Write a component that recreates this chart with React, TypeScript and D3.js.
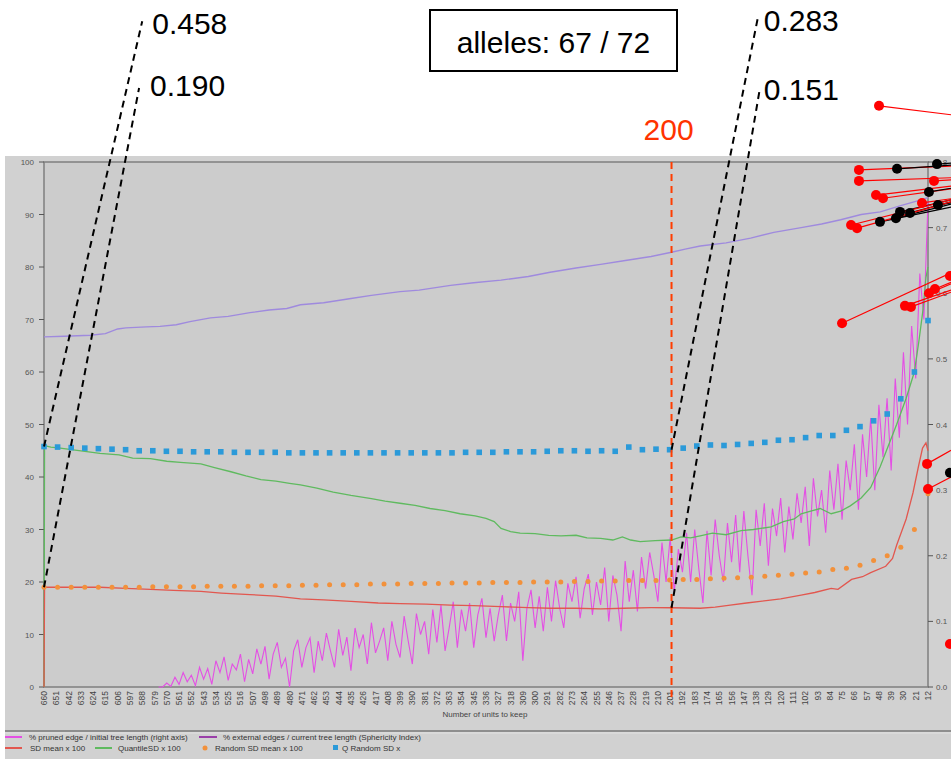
import React from 'react';
import * as d3 from 'd3';

const W = 951;
const H = 759;

// x-axis tick labels (Number of units to keep)
const xTickLabels = [660,651,642,633,624,615,606,597,588,579,570,561,552,543,534,525,516,507,498,489,480,471,462,453,444,435,426,417,408,399,390,381,372,363,354,345,336,327,318,309,300,291,282,273,264,255,246,237,228,219,210,201,192,183,174,165,156,147,138,129,120,111,102,93,84,75,66,57,48,39,30,21,12];
const leftTicks = [0,10,20,30,40,50,60,70,80,90,100];
const rightTicks = [0,0.1,0.2,0.3,0.4,0.5,0.6,0.7,0.8];

// % pruned edge / initial tree length (right axis), every 3 units from 576 to 12
const magentaStart = 576;
const magentaStep = 3;
const magentaValues = [
  0, 0, 0.006, 0.001, 0.015, 0.004, 0.022, 0.008, 0.018, 0.002, 0.03,
  0.012, 0.028, 0.004, 0.04, 0.022, 0.046, 0.01, 0.035, 0.026, 0.05, 0.008, 0.042,
  0.02, 0.058, 0.035, 0.062, 0.012, 0.05, 0.068, 0.03, 0.044, 0.0, 0.055, 0.072,
  0.03, 0.06, 0.075, 0.022, 0.07, 0.04, 0.082, 0.055, 0.03, 0.088, 0.048, 0.076,
  0.025, 0.09, 0.06, 0.08, 0.035, 0.098, 0.052, 0.07, 0.09, 0.04, 0.1, 0.065,
  0.045, 0.108, 0.07, 0.035, 0.112, 0.08, 0.1, 0.05, 0.118, 0.068, 0.125, 0.055,
  0.09, 0.13, 0.06, 0.118, 0.085, 0.128, 0.06, 0.11, 0.135, 0.075, 0.12, 0.07,
  0.11, 0.14, 0.07, 0.128, 0.1, 0.145, 0.04, 0.12, 0.148, 0.09, 0.138, 0.085,
  0.152, 0.1, 0.162, 0.12, 0.09, 0.158, 0.13, 0.168, 0.105, 0.15, 0.172, 0.11,
  0.16, 0.125, 0.182, 0.1, 0.17, 0.14, 0.085, 0.192, 0.13, 0.178, 0.115, 0.198,
  0.15, 0.205, 0.17, 0.13, 0.22, 0.16, 0.228, 0.145, 0.21, 0.175, 0.235, 0.16,
  0.24, 0.18, 0.128, 0.238, 0.17, 0.255, 0.2, 0.16, 0.25, 0.19, 0.262, 0.175,
  0.268, 0.2, 0.14, 0.27, 0.215, 0.28, 0.185, 0.272, 0.23, 0.288, 0.205, 0.275,
  0.225, 0.295, 0.25, 0.305, 0.215, 0.318, 0.26, 0.3, 0.235, 0.33, 0.27, 0.34,
  0.255, 0.345, 0.3, 0.37, 0.27, 0.385, 0.32, 0.41, 0.3, 0.43, 0.35, 0.44,
  0.33, 0.47, 0.38, 0.51, 0.4, 0.55, 0.47, 0.63, 0.56, 0.74,
];

// % external edges / current tree length (Sphericity Index) [unit, value]
const purplePoints: [number, number][] = [
  [660, 66.7], [645, 66.8], [626, 67.0], [615, 67.3], [606, 68.2], [600, 68.4], [585, 68.6],
  [575, 68.7], [563, 69.0], [553, 69.6], [538, 70.3], [525, 70.6], [509, 71.3], [495, 71.8],
  [482, 72.1], [472, 72.8], [455, 73.2], [435, 74.0], [420, 74.6], [399, 75.3], [385, 75.6],
  [362, 76.5], [345, 77.0], [325, 77.5], [305, 78.2], [289, 79.0], [270, 79.8], [252, 80.5],
  [235, 81.2], [215, 82.0], [200, 82.8], [190, 83.4], [179, 84.0], [160, 84.6], [142, 85.5],
  [125, 86.6], [105, 87.5], [90, 88.2], [76, 89.0], [61, 90.0], [47, 90.5], [32, 91.7],
  [21, 92.5], [12, 93.2],
];

// SD mean x 100
const redPoints: [number, number][] = [
  [660, 0], [659.6, 19.0], [640, 19.0], [619, 19.0], [600, 18.8], [582, 18.6], [565, 18.4],
  [545, 18.2], [530, 17.9], [509, 17.6], [490, 17.3], [472, 16.8], [455, 16.6], [435, 16.3],
  [415, 16.0], [399, 15.9], [380, 15.8], [362, 15.6], [345, 15.5], [325, 15.3], [305, 15.1],
  [289, 15.0], [270, 15.0], [252, 14.9], [235, 15.0], [215, 15.1], [200, 15.1], [179, 15.0],
  [168, 15.2], [157, 15.6], [145, 16.0], [135, 16.3], [120, 16.8], [105, 17.5], [95, 18.0],
  [83, 18.8], [78, 18.6], [68, 20.5], [60, 21.0], [54, 21.8], [43, 23.0], [38, 24.5],
  [35, 27.0], [28, 32.0], [23, 37.0], [19, 42.0], [16, 45.5], [13.5, 46.5], [12, 45.0],
];

// QuantileSD x 100
const greenPoints: [number, number][] = [
  [660, 0], [659.6, 46], [655, 45.7], [648, 45.5], [640, 45.2], [630, 44.9], [619, 44.5],
  [605, 44.2], [595, 43.6], [582, 43.5], [570, 43.0], [560, 42.8], [545, 42.5], [535, 41.8],
  [523, 41.0], [512, 40.2], [501, 39.5], [490, 39.2], [480, 38.8], [472, 38.5], [460, 37.9],
  [448, 37.1], [435, 36.5], [420, 35.9], [410, 35.4], [399, 35.0], [388, 34.6], [377, 34.0],
  [366, 33.6], [355, 33.0], [344, 32.6], [336, 32.1], [330, 31.5], [325, 30.2], [318, 29.6],
  [311, 29.3], [300, 29.2], [290, 28.9], [281, 28.8], [270, 28.9], [262, 28.4], [252, 28.3],
  [243, 28.0], [236, 28.6], [230, 28.0], [223, 27.7], [212, 27.9], [200, 28.0], [193, 28.6],
  [186, 28.4], [179, 28.8], [170, 29.3], [160, 29.0], [149, 29.8], [140, 30.0], [127, 30.5],
  [118, 31.5], [110, 32.0], [105, 33.0], [98, 33.5], [91, 34.0], [83, 33.0], [76, 33.5],
  [69, 34.5], [61, 36.0], [54, 38.0], [47, 42.0], [41, 46.0], [35, 50.0], [28, 55.0],
  [22, 60.0], [18.6, 66.0], [15.6, 72.0], [13.5, 78.0], [12, 80.0],
];

// Random SD mean x 100 (66 evenly spaced markers, 660 -> 12)
const orangeValues = [
  19.0, 19.0, 19.0, 19.0, 19.0, 19.0, 19.0, 19.0, 19.1, 19.1, 19.1, 19.1, 19.2, 19.2,
  19.2, 19.2, 19.3, 19.3, 19.3, 19.4, 19.4, 19.5, 19.5, 19.5, 19.6, 19.6, 19.6, 19.7,
  19.7, 19.7, 19.8, 19.8, 19.8, 19.9, 19.9, 19.9, 20.0, 20.0, 20.0, 20.1, 20.1, 20.2,
  20.2, 20.3, 20.3, 20.3, 20.4, 20.5, 20.5, 20.6, 20.7, 20.8, 20.9, 21.1, 21.3, 21.5,
  21.7, 21.9, 22.4, 22.6, 23.2, 24.1, 25.0, 26.6, 30.0, 36.8,
];

// Q Random SD x 100
const blueValues = [
  45.8, 45.7, 45.6, 45.5, 45.4, 45.3, 45.2, 45.0, 45.0, 44.9, 44.9, 44.8, 44.8, 44.8,
  44.7, 44.7, 44.7, 44.7, 44.6, 44.6, 44.6, 44.6, 44.6, 44.6, 44.6, 44.6, 44.6, 44.6,
  44.6, 44.6, 44.6, 44.7, 44.7, 44.7, 44.8, 44.8, 44.8, 44.9, 45.0, 45.0, 44.9, 45.0,
  44.9, 45.7, 45.2, 45.3, 45.2, 45.5, 45.9, 46.1, 46.0, 46.2, 46.4, 46.6, 47.0, 47.1,
  47.5, 47.9, 47.9, 48.9, 49.6, 50.7, 52.0, 54.9, 60.0, 69.8,
];

// Dashed callouts: [fromUnit, fromValue, toUnit, toValue, label]
const callouts: [number, number, number, number, string][] = [
  [660, 45.8, 588, 126.8, '0.458'],
  [660, 19.0, 590.3, 114.1, '0.190'],
  [200, 45.2, 136.8, 127.4, '0.283'],
  [200, 15.1, 135.3, 113.9, '0.151'],
];

// Leader dots: [unit, value, color, endUnit, endValue]
const leaders: [number, number, string, number | null, number | null][] = [
  [47.9, 110.7, 'red', -4.9, 109.0],
  [62.6, 98.5, 'red', -4.9, 99.2],
  [34.7, 98.7, 'black', -4.9, 99.4],
  [5.4, 99.6, 'black', -4.9, 99.8],
  [62.6, 96.4, 'red', -4.9, 97.0],
  [7.6, 96.4, 'red', -4.9, 96.6],
  [50.1, 93.7, 'red', -4.9, 95.4],
  [45.0, 93.1, 'red', -4.9, 94.9],
  [11.3, 94.3, 'black', -4.9, 95.0],
  [16.4, 92.2, 'red', -4.9, 93.0],
  [4.7, 91.8, 'black', -4.9, 92.2],
  [32.5, 90.5, 'black', -4.9, 92.8],
  [25.2, 90.3, 'black', -4.9, 92.4],
  [35.5, 89.3, 'black', -4.9, 92.0],
  [47.2, 88.6, 'black', -4.9, 91.4],
  [68.4, 88.0, 'red', -4.9, 92.8],
  [64.0, 87.4, 'red', -4.9, 92.4],
  [-4.1, 78.3, 'red', null, null],
  [6.9, 75.8, 'red', -4.9, 77.1],
  [11.3, 75.0, 'red', -4.9, 76.8],
  [28.9, 72.6, 'red', -4.9, 75.6],
  [24.5, 72.4, 'red', -4.9, 75.2],
  [75.0, 69.3, 'red', -4.9, 78.9],
  [12.7, 42.5, 'red', -4.9, 45.1],
  [-4.1, 40.8, 'black', null, null],
  [12.0, 37.7, 'red', -4.9, 40.0],
  [-4.1, 8.2, 'red', null, null],
];

const markerLine = 200;

const COLORS = {
  magenta: '#e44fe4',
  purple: '#9f8ade',
  red: '#e2574f',
  green: '#5fba5f',
  orange: '#f2913b',
  blue: '#2b9ad9',
};

const FONT = '"Liberation Sans", Arial, sans-serif';

export default function App() {
  const x = d3.scaleLinear().domain([660, 12]).range([44, 928]);
  const yL = d3.scaleLinear().domain([0, 100]).range([687, 162]);
  const yR = d3.scaleLinear().domain([0, 0.8]).range([687, 162]);

  const lineL = d3.line<[number, number]>().x((d) => x(d[0])).y((d) => yL(d[1]));
  const lineR = d3.line<[number, number]>().x((d) => x(d[0])).y((d) => yR(d[1]));

  const magentaPts: [number, number][] = magentaValues.map((v, i) => [magentaStart - i * magentaStep, v]);
  const markerUnit = (i: number) => 660 - (i * (660 - 12)) / (orangeValues.length - 1);

  const calloutOffsets = [
    [10, 13],
    [11, 8],
    [6, 13],
    [4, 11],
  ];

  const legendRow1 = 740;
  const legendRow2 = 751;

  return (
    <svg
      width={W}
      height={H}
      style={{ position: 'absolute', left: 0, top: 0, fontFamily: FONT }}
    >
      <rect x={0} y={0} width={W} height={H} fill="#ffffff" />
      {/* chart image background */}
      <rect x={5} y={156} width={W - 5} height={H - 156} fill="#d1d1d1" />
      <line x1={5} x2={W} y1={731} y2={731} stroke="#8e8e8e" strokeWidth={2} />
      <line x1={5} x2={W} y1={733} y2={733} stroke="#e2e2e2" strokeWidth={1} />
      {/* plot area */}
      <rect x={44} y={162} width={884} height={525} fill="#cccccc" stroke="#7f7f7f" strokeWidth={1.5} />

      {/* left axis */}
      {leftTicks.map((t) => (
        <g key={'l' + t}>
          <line x1={39} x2={44} y1={yL(t)} y2={yL(t)} stroke="#555" strokeWidth={1} />
          <text x={34} y={yL(t) + 3} fontSize={8} fill="#555" textAnchor="end">
            {t}
          </text>
        </g>
      ))}
      {/* right axis */}
      {rightTicks.map((t) => (
        <g key={'r' + t}>
          <line x1={928} x2={933} y1={yR(t)} y2={yR(t)} stroke="#555" strokeWidth={1} />
          <text x={936} y={yR(t) + 3} fontSize={8} fill="#555" textAnchor="start">
            {d3.format('.1f')(t)}
          </text>
        </g>
      ))}
      {/* x axis */}
      {xTickLabels.map((t) => (
        <g key={'x' + t} transform={`translate(${x(t) + 3},${691}) rotate(-90)`}>
          <text x={0} y={0} fontSize={8.5} fill="#444" textAnchor="end">
            {t}
          </text>
        </g>
      ))}
      <text x={485} y={717} fontSize={8} fill="#444" textAnchor="middle">
        Number of units to keep
      </text>

      {/* series */}
      <path d={lineR(magentaPts) || ''} fill="none" stroke={COLORS.magenta} strokeWidth={1.1} />
      <path d={lineL(purplePoints) || ''} fill="none" stroke={COLORS.purple} strokeWidth={1.4} />
      <path d={lineL(greenPoints) || ''} fill="none" stroke={COLORS.green} strokeWidth={1.3} />
      <path d={lineL(redPoints) || ''} fill="none" stroke={COLORS.red} strokeWidth={1.3} />
      {orangeValues.map((v, i) => (
        <circle key={'o' + i} cx={x(markerUnit(i))} cy={yL(v)} r={2.5} fill={COLORS.orange} />
      ))}
      {blueValues.map((v, i) => (
        <rect key={'b' + i} x={x(markerUnit(i)) - 2.8} y={yL(v) - 2.8} width={5.6} height={5.6} fill={COLORS.blue} />
      ))}

      {/* legend */}
      <line x1={5} x2={22} y1={legendRow1 - 3} y2={legendRow1 - 3} stroke={COLORS.magenta} strokeWidth={2} />
      <text x={29} y={legendRow1} fontSize={8} fill="#333">% pruned edge / initial tree length (right axis)</text>
      <line x1={199} x2={217} y1={legendRow1 - 3} y2={legendRow1 - 3} stroke="#9a3fa8" strokeWidth={2} />
      <text x={223} y={legendRow1} fontSize={8} fill="#333">% external edges / current tree length (Sphericity Index)</text>
      <line x1={5} x2={22} y1={legendRow2 - 3} y2={legendRow2 - 3} stroke={COLORS.red} strokeWidth={2} />
      <text x={30} y={legendRow2} fontSize={8} fill="#333">SD mean x 100</text>
      <line x1={95} x2={112} y1={legendRow2 - 3} y2={legendRow2 - 3} stroke={COLORS.green} strokeWidth={2} />
      <text x={118} y={legendRow2} fontSize={8} fill="#333">QuantileSD x 100</text>
      <circle cx={205} cy={legendRow2 - 3} r={2.5} fill={COLORS.orange} />
      <text x={215} y={legendRow2} fontSize={8} fill="#333">Random SD mean x 100</text>
      <rect x={333} y={legendRow2 - 6} width={5} height={5} fill={COLORS.blue} />
      <text x={342} y={legendRow2} fontSize={8} fill="#333">Q Random SD x</text>

      {/* red marker line at 200 */}
      <line
        x1={x(markerLine)}
        x2={x(markerLine)}
        y1={yL(100)}
        y2={yL(-2.6)}
        stroke="#ff3d00"
        strokeWidth={2}
        strokeDasharray="7 5"
      />
      <text x={x(markerLine) - 28} y={140} fontSize={30} fill="#ff3300">
        {markerLine}
      </text>

      {/* dashed callouts */}
      {callouts.map((c, i) => (
        <g key={'c' + i}>
          <line
            x1={x(c[0])}
            y1={yL(c[1])}
            x2={x(c[2])}
            y2={yL(c[3])}
            stroke="#000"
            strokeWidth={2}
            strokeDasharray="7 5"
          />
          <text x={x(c[2]) + calloutOffsets[i][0]} y={yL(c[3]) + calloutOffsets[i][1]} fontSize={30} fill="#000">
            {c[4]}
          </text>
        </g>
      ))}

      {/* alleles box */}
      <rect x={430} y={10} width={247} height={61} fill="#fff" stroke="#000" strokeWidth={2} />
      <text x={553.5} y={53} fontSize={30} fill="#000" textAnchor="middle">
        alleles: 67 / 72
      </text>

      {/* leader lines & dots */}
      {leaders.map((l, i) =>
        l[3] !== null ? (
          <line
            key={'ll' + i}
            x1={x(l[0])}
            y1={yL(l[1])}
            x2={x(l[3] as number)}
            y2={yL(l[4] as number)}
            stroke={l[2] === 'red' ? '#ff0000' : '#000'}
            strokeWidth={1.2}
          />
        ) : null
      )}
      {leaders.map((l, i) => (
        <circle key={'ld' + i} cx={x(l[0])} cy={yL(l[1])} r={5} fill={l[2] === 'red' ? '#ff0000' : '#000'} />
      ))}
    </svg>
  );
}
